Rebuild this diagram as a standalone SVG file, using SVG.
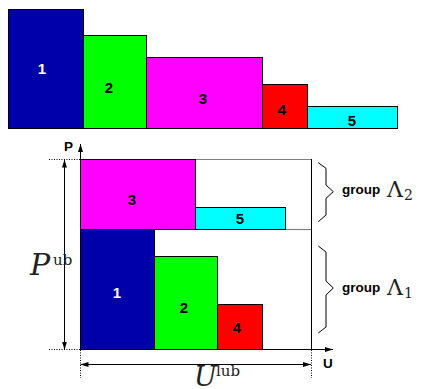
<svg xmlns="http://www.w3.org/2000/svg" width="425" height="389" viewBox="0 0 425 389">
<defs>
<style>
.box{stroke:#000;stroke-width:1}
.blue{fill:#0000AA}.green{fill:#00FF00}.mag{fill:#FF00FF}.red{fill:#FF0000}.cyan{fill:#00FFFF}
.num{font-family:"Liberation Sans",Arial,sans-serif;font-weight:bold;font-size:15px;text-anchor:middle;fill:#000}
.wh{fill:#fff}
.ln{stroke:#000;stroke-width:1;fill:none}
.gray{stroke:#808080;stroke-width:1.2;fill:none}
.dot{stroke:#000;stroke-width:1;stroke-dasharray:1,1.5;fill:none}
.lab{font-family:"Liberation Sans",Arial,sans-serif;font-weight:bold;font-size:13.5px;fill:#000}
.math{font-family:"DejaVu Serif","Liberation Serif",serif;fill:#222}
</style>
<marker id="ah" markerWidth="8" markerHeight="6" refX="8" refY="3" orient="auto-start-reverse" markerUnits="userSpaceOnUse">
<path d="M0,0.5 L8,3 L0,5.5 Z" fill="#000"/>
</marker>
</defs>

<g id="top-1"><rect class="box blue" x="8.5" y="9.5" width="75" height="119"/><text class="num wh" x="42" y="73.5">1</text></g>
<g id="top-2"><rect class="box green" x="83.5" y="35.5" width="63" height="93"/><text class="num" x="109" y="92.5">2</text></g>
<g id="top-3"><rect class="box mag" x="146.5" y="57.5" width="116" height="71"/><text class="num" x="203" y="103.5">3</text></g>
<g id="top-4"><rect class="box red" x="262.5" y="84.5" width="45" height="44"/><text class="num" x="282" y="114.5">4</text></g>
<g id="top-5"><rect class="box cyan" x="307.5" y="106.5" width="90" height="22"/><text class="num" x="352" y="125.5">5</text></g>

<g id="frame">
<line class="gray" x1="195.5" y1="159.5" x2="311.5" y2="159.5"/>
<line class="gray" x1="285.5" y1="229.5" x2="311.5" y2="229.5"/>
<line class="ln" x1="311.5" y1="159" x2="311.5" y2="349.5"/>
</g>

<g id="bot-3"><rect class="box mag" x="80.5" y="159.5" width="115" height="70"/><text class="num" x="132" y="204.5">3</text></g>
<g id="bot-5"><rect class="box cyan" x="195.5" y="207.5" width="90" height="22"/><text class="num" x="240" y="223.5">5</text></g>
<g id="bot-1"><rect class="box blue" x="80.5" y="229.5" width="74" height="120"/><text class="num wh" x="117" y="297.5">1</text></g>
<g id="bot-2"><rect class="box green" x="154.5" y="256.5" width="63" height="93"/><text class="num" x="184" y="312.5">2</text></g>
<g id="bot-4"><rect class="box red" x="217.5" y="304.5" width="45" height="45"/><text class="num" x="237" y="332.5">4</text></g>

<g id="connectors">
<line class="ln" x1="80.5" y1="349.5" x2="333" y2="349.5" marker-end="url(#ah)"/>
<line class="ln" x1="80.5" y1="349.5" x2="80.5" y2="144" marker-end="url(#ah)"/>
<line class="dot" x1="49" y1="159.5" x2="80" y2="159.5"/>
<line class="dot" x1="49" y1="349.5" x2="80" y2="349.5"/>
<line class="ln" x1="64.5" y1="159.5" x2="64.5" y2="349.5" marker-start="url(#ah)" marker-end="url(#ah)"/>
<line class="dot" x1="80.5" y1="350" x2="80.5" y2="378"/>
<line class="dot" x1="311.5" y1="350" x2="311.5" y2="378"/>
<line class="ln" x1="80.5" y1="364.5" x2="311" y2="364.5" marker-start="url(#ah)" marker-end="url(#ah)"/>
<polyline class="ln" points="318.3,162.7 326,168.3 326,185 333.3,191.7 326,198.3 326,215 318.3,221.7"/>
<polyline class="ln" points="318.3,246 326,252 326,281 333.3,288 326,295 326,327 318.3,333"/>
</g>

<g id="labels">
<text class="lab" x="64" y="151" font-size="11">P</text>
<text class="lab" x="323" y="367.5" font-size="14">U</text>
<text class="math" x="30" y="275" font-size="30" font-style="italic">P</text>
<text class="math" x="53" y="265" font-size="15">ub</text>
<text class="math" x="194" y="386" font-size="27" font-style="italic">U</text>
<text class="math" x="216" y="376" font-size="15">lub</text>
<text class="lab" x="342" y="194">group</text>
<text class="math" x="387" y="197" font-size="22">Λ</text>
<text class="math" x="404" y="200" font-size="14">2</text>
<text class="lab" x="342" y="292">group</text>
<text class="math" x="387" y="295" font-size="22">Λ</text>
<text class="math" x="404" y="298" font-size="14">1</text>
</g>
</svg>
